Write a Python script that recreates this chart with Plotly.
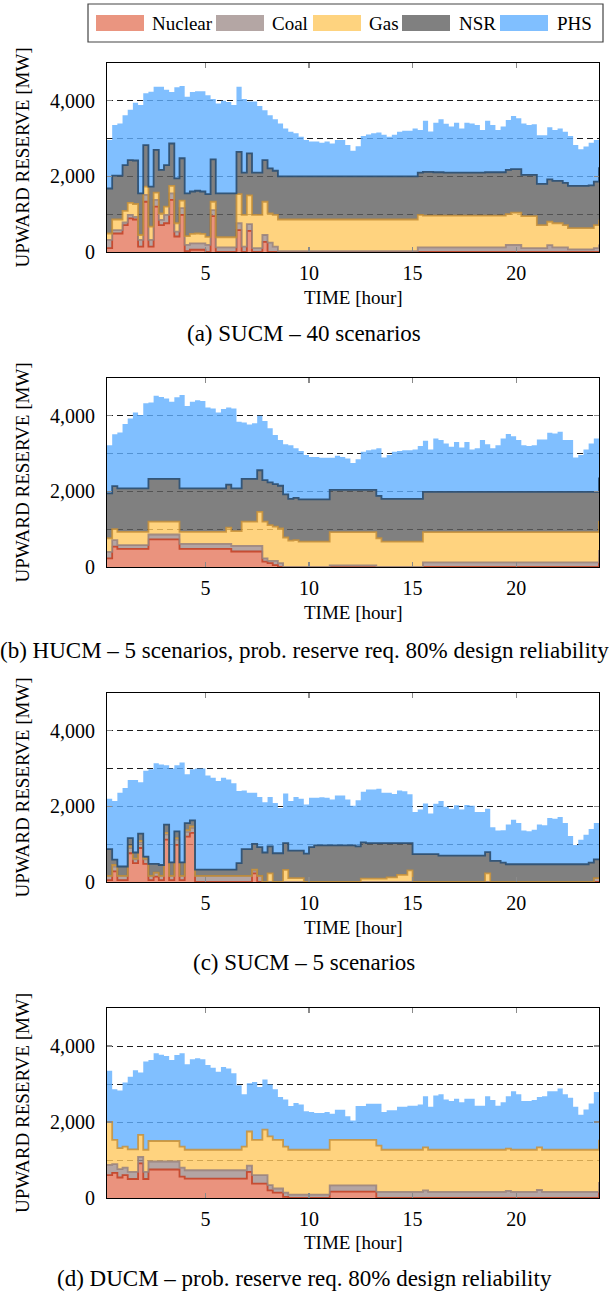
import plotly.graph_objects as go

# ---------------- data (MW), 15-min resolution ----------------
# Each list gives the TOP of the stacked layer (cumulative reserve up to that technology).
TIME_H = [q / 4 for q in range(1, 97)]  # 0.25 ... 24 h

SERIES = ["Nuclear", "Coal", "Gas", "NSR", "PHS"]

# (a) SUCM - 40 scenarios
A_NUCLEAR_TOP = [100, 490, 490, 710, 890, 860, 140, 1330, 140, 1200, 710, 760, 1380, 410, 980, 20,
                 60, 60, 60, 0, 950, 0, 0, 0, 0, 580, 0, 560, 0, 0, 270, 0,
                 0, 0, 0, 0, 0, 0, 0, 0, 0, 0, 0, 0, 0, 0, 0, 0,
                 0, 0, 0, 0, 0, 0, 0, 0, 0, 0, 0, 0, 0, 0, 0, 0,
                 0, 0, 0, 0, 0, 0, 0, 0, 0, 0, 0, 0, 0, 0, 0, 0,
                 0, 0, 0, 0, 0, 0, 0, 0, 0, 0, 0, 0, 0, 0, 0, 0]
A_COAL_TOP = [320, 580, 580, 780, 980, 930, 320, 1510, 320, 1380, 850, 980, 1550, 540, 1160, 190,
              230, 230, 230, 190, 1110, 120, 120, 120, 120, 760, 140, 740, 100, 100, 450, 250,
              140, 20, 20, 20, 20, 20, 20, 20, 20, 20, 20, 20, 20, 20, 20, 20,
              20, 20, 20, 20, 20, 20, 20, 20, 20, 20, 20, 20, 120, 120, 120, 120,
              120, 120, 120, 120, 120, 120, 120, 120, 120, 120, 120, 120, 120, 190, 190, 190,
              100, 100, 100, 100, 100, 180, 120, 120, 120, 70, 70, 70, 70, 70, 100, 200]
A_GAS_TOP = [490, 860, 860, 1090, 1300, 1270, 450, 1730, 670, 1570, 1020, 1200, 1750, 760, 1360, 420,
             480, 490, 480, 400, 1330, 390, 390, 390, 390, 1530, 980, 1500, 980, 980, 1330, 1020,
             980, 860, 860, 860, 860, 860, 860, 860, 860, 860, 860, 860, 860, 860, 860, 860,
             860, 860, 860, 860, 860, 860, 860, 860, 860, 860, 860, 860, 980, 960, 960, 960,
             960, 960, 960, 960, 960, 960, 960, 960, 960, 960, 960, 960, 960, 1000, 1040, 1040,
             950, 950, 950, 710, 710, 800, 760, 760, 710, 630, 630, 630, 630, 630, 710, 850]
A_NSR_TOP = [1680, 2020, 2020, 2300, 2430, 2420, 1550, 2830, 1730, 2700, 2170, 2300, 2870, 1950, 2480, 1550,
             1600, 1620, 1600, 1530, 2450, 1550, 1550, 1550, 1550, 2650, 2100, 2610, 2100, 2100, 2430, 2210,
             2150, 2000, 2000, 2000, 2000, 2000, 2000, 2000, 2000, 2000, 2000, 2000, 2000, 2000, 2000, 2000,
             2000, 2000, 2000, 2000, 2000, 2000, 2000, 2000, 2000, 2000, 2000, 2000, 2100, 2120, 2120, 2110,
             2110, 2100, 2100, 2100, 2100, 2100, 2100, 2100, 2100, 2110, 2110, 2110, 2110, 2170, 2190, 2190,
             2040, 2040, 2040, 1800, 1800, 1920, 1880, 1880, 1830, 1750, 1750, 1750, 1750, 1760, 1860, 2240]
A_PHS_TOP = [2960, 3360, 3400, 3620, 3760, 3950, 3890, 4200, 4240, 4370, 4370, 4290, 4230, 4360, 4390, 4110,
             4230, 4250, 4250, 4150, 4050, 3930, 4000, 3970, 3890, 4370, 4050, 3980, 3980, 3860, 3750, 3620,
             3510, 3400, 3270, 3180, 3140, 3050, 2960, 2920, 2920, 2890, 2920, 2870, 2960, 2960, 2830, 2680,
             2800, 3070, 3110, 3140, 3160, 3100, 3050, 3100, 3180, 3210, 3210, 3270, 3230, 3470, 3190, 3420,
             3510, 3390, 3320, 3420, 3270, 3420, 3400, 3360, 3230, 3470, 3360, 3230, 3320, 3490, 3600, 3540,
             3400, 3360, 3380, 3090, 3090, 3300, 3230, 3270, 3180, 3070, 2830, 2720, 2790, 2890, 2960, 3490]

# (b) HUCM - 5 scenarios, prob. reserve req. 80% design reliability
B_NUCLEAR_TOP = [230, 540, 480, 480, 480, 480, 480, 480, 730, 730, 730, 730, 730, 730, 480, 480,
                 480, 480, 480, 480, 480, 480, 480, 480, 410, 410, 410, 410, 410, 410, 140, 100,
                 50, 0, 0, 0, 0, 0, 0, 0, 0, 0, 0, 0, 0, 0, 0, 0,
                 0, 0, 0, 0, 0, 0, 0, 0, 0, 0, 0, 0, 0, 0, 0, 0,
                 0, 0, 0, 0, 0, 0, 0, 0, 0, 0, 0, 0, 0, 0, 0, 0,
                 0, 0, 0, 0, 0, 0, 0, 0, 0, 0, 0, 0, 0, 0, 0, 250]
B_COAL_TOP = [400, 710, 580, 580, 580, 580, 580, 580, 860, 860, 860, 860, 860, 860, 610, 610,
              610, 610, 610, 610, 610, 610, 610, 610, 560, 560, 560, 560, 560, 560, 230, 160,
              160, 100, 0, 0, 0, 0, 0, 0, 0, 0, 0, 40, 40, 40, 40, 40,
              40, 40, 40, 40, 0, 0, 0, 0, 0, 0, 0, 0, 0, 120, 120, 120,
              120, 120, 120, 120, 120, 120, 120, 120, 120, 120, 120, 120, 120, 120, 120, 120,
              120, 120, 120, 120, 120, 120, 120, 120, 120, 120, 120, 120, 120, 120, 120, 450]
B_GAS_TOP = [760, 1000, 930, 930, 930, 930, 930, 930, 1200, 1200, 1200, 1200, 1200, 1200, 930, 930,
             930, 930, 930, 930, 930, 930, 930, 1040, 950, 950, 1200, 1200, 1200, 1460, 1200, 1110,
             1070, 1020, 780, 700, 710, 670, 670, 670, 670, 670, 670, 920, 920, 920, 920, 920,
             920, 920, 920, 920, 760, 670, 670, 670, 670, 670, 670, 670, 670, 920, 920, 920,
             920, 920, 920, 920, 920, 920, 920, 920, 920, 920, 920, 920, 920, 920, 920, 920,
             920, 920, 920, 920, 920, 920, 920, 920, 920, 920, 920, 920, 920, 920, 920, 1220]
B_NSR_TOP = [1950, 2140, 2080, 2080, 2080, 2080, 2080, 2080, 2330, 2330, 2330, 2330, 2330, 2330, 2080, 2080,
             2080, 2080, 2080, 2080, 2080, 2080, 2080, 2180, 2080, 2080, 2330, 2330, 2330, 2560, 2300, 2240,
             2190, 2150, 1920, 1800, 1830, 1790, 1790, 1790, 1790, 1790, 1790, 2040, 2040, 2040, 2040, 2040,
             2040, 2040, 2040, 2040, 1880, 1800, 1800, 1800, 1800, 1800, 1800, 1800, 1800, 1990, 1990, 1990,
             1990, 1990, 1990, 1990, 1990, 1990, 1990, 1990, 1990, 1990, 1990, 1990, 1990, 1990, 1990, 1990,
             1990, 1990, 1990, 1990, 1990, 1990, 1990, 1990, 1990, 1990, 1990, 1990, 1990, 1990, 1990, 2370]
B_PHS_TOP = [3220, 3510, 3560, 3780, 3930, 4090, 4020, 4330, 4350, 4530, 4500, 4460, 4370, 4490, 4550, 4260,
             4370, 4410, 4390, 4220, 4190, 4090, 4180, 4220, 4190, 3840, 3820, 3770, 3800, 4000, 3860, 3670,
             3490, 3360, 3250, 3220, 3140, 3070, 2960, 2910, 2910, 2890, 2890, 2890, 2940, 2910, 2870, 2750,
             2850, 3050, 3090, 3110, 3140, 2900, 2960, 3050, 3070, 3090, 3090, 3110, 3200, 3340, 3110, 3400,
             3360, 3270, 3180, 3310, 3160, 3310, 3110, 3140, 3360, 3250, 3140, 3220, 3400, 3520, 3460, 3360,
             3220, 3200, 3220, 3370, 3370, 3550, 3530, 3580, 3360, 3360, 2900, 2960, 3110, 3270, 3400, 3400]

# (c) SUCM - 5 scenarios
C_NUCLEAR_TOP = [50, 280, 50, 50, 760, 500, 900, 480, 50, 140, 50, 1120, 50, 980, 50, 1200,
                 1300, 0, 0, 0, 0, 0, 0, 0, 0, 0, 0, 0, 230, 0, 0, 0,
                 0, 0, 0, 0, 0, 0, 0, 0, 0, 0, 0, 0, 0, 0, 0, 0,
                 0, 0, 0, 0, 0, 0, 0, 0, 0, 0, 0, 0, 0, 0, 0, 0,
                 0, 0, 0, 0, 0, 0, 0, 0, 0, 0, 0, 0, 0, 0, 0, 0,
                 0, 0, 0, 0, 0, 0, 0, 0, 0, 0, 0, 0, 0, 0, 0, 0]
C_COAL_TOP = [160, 410, 160, 160, 900, 600, 1050, 600, 160, 250, 160, 1260, 160, 1120, 160, 1330,
              1430, 160, 160, 160, 160, 160, 160, 160, 160, 160, 160, 160, 300, 160, 0, 0,
              0, 0, 0, 0, 0, 0, 0, 0, 0, 0, 0, 0, 0, 0, 0, 0,
              0, 0, 0, 0, 0, 0, 0, 0, 0, 0, 0, 0, 0, 0, 0, 0,
              0, 0, 0, 0, 0, 0, 0, 0, 0, 0, 0, 0, 0, 0, 0, 0,
              0, 0, 0, 0, 0, 0, 0, 0, 0, 0, 0, 0, 0, 0, 100, 100]
C_GAS_TOP = [160, 450, 160, 160, 940, 620, 1090, 620, 160, 250, 160, 1300, 160, 1160, 160, 1370,
             1470, 160, 160, 160, 160, 160, 160, 160, 160, 160, 160, 160, 330, 160, 0, 230,
             0, 0, 320, 100, 100, 100, 0, 0, 0, 0, 0, 0, 0, 0, 0, 0,
             0, 90, 90, 90, 90, 90, 120, 120, 190, 190, 310, 0, 0, 0, 0, 0,
             0, 0, 0, 0, 0, 0, 0, 0, 0, 230, 0, 0, 0, 0, 0, 0,
             0, 0, 0, 0, 0, 0, 0, 0, 0, 0, 0, 0, 0, 0, 100, 100]
C_NSR_TOP = [870, 590, 410, 410, 1160, 780, 1280, 670, 480, 480, 450, 1520, 520, 1340, 520, 1560,
             1630, 330, 330, 330, 330, 330, 330, 330, 330, 500, 870, 870, 1010, 920, 780, 940,
             760, 760, 1030, 830, 830, 830, 750, 920, 970, 970, 970, 970, 970, 970, 970, 970,
             940, 1050, 1030, 1030, 1030, 1030, 1030, 1030, 1030, 1030, 1030, 740, 740, 740, 740, 740,
             700, 700, 700, 700, 700, 700, 700, 700, 700, 790, 560, 560, 510, 470, 470, 470,
             470, 470, 470, 470, 470, 470, 470, 470, 470, 470, 470, 470, 470, 510, 600, 600]
C_PHS_TOP = [2200, 2140, 2360, 2490, 2700, 2700, 2640, 2940, 2980, 3140, 3110, 3090, 3000, 3090, 3160, 2850,
             2980, 3000, 3000, 2820, 2760, 2670, 2760, 2710, 2610, 2410, 2420, 2360, 2360, 2250, 2110, 2250,
             2090, 1960, 2340, 2140, 2250, 2200, 2050, 2230, 2230, 2240, 2230, 2180, 2290, 2290, 2180, 2020,
             2160, 2390, 2450, 2450, 2470, 2360, 2360, 2330, 2420, 2400, 2320, 1850, 1920, 2080, 1810, 2070,
             2140, 1990, 1940, 2030, 1920, 2040, 2020, 1850, 1850, 1940, 1450, 1360, 1370, 1520, 1650, 1560,
             1360, 1340, 1380, 1520, 1500, 1690, 1670, 1720, 1560, 1220, 980, 1120, 1250, 1400, 1560, 1690]

# (d) DUCM - prob. reserve req. 80% design reliability  (no NSR in this case)
D_NUCLEAR_TOP = [600, 660, 540, 600, 500, 500, 910, 500, 750, 750, 750, 750, 750, 750, 560, 510,
                 510, 510, 510, 510, 510, 510, 510, 510, 510, 510, 510, 690, 380, 380, 380, 200,
                 140, 140, 30, 0, 0, 0, 0, 0, 0, 0, 0, 170, 170, 170, 170, 170,
                 170, 170, 170, 170, 0, 0, 0, 0, 0, 0, 0, 0, 0, 0, 0, 0,
                 0, 0, 0, 0, 0, 0, 0, 0, 0, 0, 0, 0, 0, 0, 0, 0,
                 0, 0, 0, 0, 0, 0, 0, 0, 0, 0, 0, 0, 0, 0, 0, 230]
D_COAL_TOP = [870, 890, 760, 800, 690, 690, 1080, 690, 960, 960, 960, 960, 960, 960, 800, 730,
              730, 730, 730, 730, 730, 730, 730, 730, 730, 730, 730, 850, 600, 600, 600, 340,
              250, 250, 140, 90, 90, 90, 90, 90, 90, 90, 90, 330, 330, 330, 330, 330,
              330, 330, 330, 330, 160, 160, 160, 160, 160, 160, 160, 160, 160, 200, 160, 160,
              160, 160, 160, 160, 160, 160, 160, 160, 160, 160, 160, 160, 160, 190, 160, 160,
              160, 160, 160, 210, 160, 160, 160, 160, 160, 160, 160, 160, 160, 160, 160, 420]
D_GAS_TOP = [2000, 1530, 1310, 1350, 1280, 1280, 1660, 1270, 1500, 1500, 1500, 1500, 1500, 1500, 1350, 1270,
             1270, 1270, 1270, 1270, 1270, 1270, 1270, 1270, 1270, 1270, 1350, 1750, 1530, 1530, 1800, 1620,
             1530, 1530, 1350, 1270, 1270, 1270, 1270, 1270, 1270, 1270, 1270, 1530, 1530, 1530, 1530, 1530,
             1530, 1530, 1530, 1530, 1380, 1270, 1270, 1270, 1270, 1270, 1270, 1270, 1270, 1330, 1270, 1270,
             1270, 1270, 1270, 1270, 1270, 1270, 1270, 1270, 1270, 1270, 1270, 1270, 1270, 1300, 1270, 1270,
             1270, 1270, 1270, 1330, 1270, 1270, 1270, 1270, 1270, 1270, 1270, 1270, 1270, 1270, 1270, 1530]
D_NSR_TOP = None
D_PHS_TOP = [3350, 2860, 2830, 3040, 3190, 3360, 3300, 3590, 3630, 3810, 3770, 3740, 3630, 3760, 3810, 3520,
             3650, 3680, 3650, 3500, 3430, 3320, 3450, 3410, 3280, 2970, 2730, 3020, 3050, 2920, 3120, 2990,
             2860, 2660, 2590, 2420, 2500, 2460, 2280, 2260, 2240, 2240, 2260, 2220, 2320, 2320, 2150, 2040,
             2420, 2420, 2480, 2480, 2480, 2260, 2310, 2310, 2400, 2400, 2430, 2430, 2460, 2680, 2400, 2700,
             2730, 2590, 2550, 2610, 2520, 2610, 2610, 2430, 2430, 2680, 2580, 2430, 2520, 2680, 2810, 2730,
             2550, 2550, 2580, 2660, 2680, 2810, 2810, 2880, 2730, 2640, 2400, 2190, 2330, 2490, 2790, 2790]

PANELS = [
    ("(a) SUCM – 40 scenarios",
     [A_NUCLEAR_TOP, A_COAL_TOP, A_GAS_TOP, A_NSR_TOP, A_PHS_TOP]),
    ("(b) HUCM – 5 scenarios, prob. reserve req. 80% design reliability",
     [B_NUCLEAR_TOP, B_COAL_TOP, B_GAS_TOP, B_NSR_TOP, B_PHS_TOP]),
    ("(c) SUCM – 5 scenarios",
     [C_NUCLEAR_TOP, C_COAL_TOP, C_GAS_TOP, C_NSR_TOP, C_PHS_TOP]),
    ("(d) DUCM – prob. reserve req. 80% design reliability",
     [D_NUCLEAR_TOP, D_COAL_TOP, D_GAS_TOP, D_NSR_TOP, D_PHS_TOP]),
]

X_TICKS = [5, 10, 15, 20]
Y_TICKS = [0, 2000, 4000]
Y_GRID_MINOR = [1000, 3000]

# ---------------- styling ----------------
W, H = 609, 1292
V_SPAN = 1281  # vertical pixel span used for placement (matches the observed page capture)
FONT = "Liberation Serif"
# fills slightly transparent so the dashed grid shows through (as in the original)
FILL = {
    "Nuclear": "rgba(229,120,94,0.8)",
    "Coal": "rgba(161,143,140,0.8)",
    "Gas": "rgba(255,200,95,0.8)",
    "NSR": "rgba(96,96,96,0.8)",
    "PHS": "rgba(96,175,255,0.8)",
}
SWATCH = {"Nuclear": "#EA9580", "Coal": "#B4A6A4", "Gas": "#FED37F", "NSR": "#808080", "PHS": "#80BFFF"}
EDGE = {
    "Nuclear": "rgba(195,60,30,0.85)",
    "Coal": "rgba(150,128,124,0.85)",
    "Gas": "rgba(200,145,55,0.85)",
    "NSR": "rgba(45,80,115,0.95)",
    "PHS": "rgba(0,0,0,0)",
}
PLOT_L, PLOT_R = 107, 599
PANEL_PX = [(63, 252), (378, 567), (693, 882), (1008, 1198)]
XTITLE_Y = [297, 612, 927, 1242]
CAPTION_Y = [333, 650, 963, 1278]


def px_x(p):
    return p / W


def px_y(p):
    return 1 - p / V_SPAN


fig = go.Figure()
annotations = []
shapes = []

for i, (caption, tops) in enumerate(PANELS):
    n = "" if i == 0 else str(i + 1)
    xa, ya = "x" + n, "y" + n
    first = True
    for name, top in zip(SERIES, tops):
        if top is None:
            continue
        fig.add_trace(go.Scatter(
            x=TIME_H, y=top, mode="lines", name=name, showlegend=False,
            line=dict(shape="hv", color=EDGE[name], width=0 if name == "PHS" else 1.8),
            fill="tozeroy" if first else "tonexty", fillcolor=FILL[name],
            xaxis=xa, yaxis=ya, hoverinfo="skip",
        ))
        first = False
    top_px, bot_px = PANEL_PX[i]
    fig.update_layout(**{
        "xaxis" + n: dict(
            domain=[px_x(PLOT_L), px_x(PLOT_R)], anchor=ya, range=[0.25, 24],
            tickvals=X_TICKS, ticks="inside", ticklen=5, tickwidth=1.2, tickcolor="#8a8a8a",
            showline=True, linecolor="black", linewidth=1, mirror="ticks",
            showgrid=False, zeroline=False,
            tickfont=dict(family=FONT, size=20, color="black"), ticklabelstandoff=3,
        ),
        "yaxis" + n: dict(
            domain=[px_y(bot_px), px_y(top_px)], anchor=xa, range=[0, 5000],
            tickvals=Y_TICKS, tickformat=",", ticks="inside", ticklen=5, tickwidth=1.2,
            tickcolor="#8a8a8a", showline=True, linecolor="black", linewidth=1, mirror="ticks",
            showgrid=True, gridcolor="rgb(30,30,30)", gridwidth=1, griddash="6px,4px",
            zeroline=False,
            minor=dict(tickvals=Y_GRID_MINOR, showgrid=True, gridcolor="rgb(30,30,30)",
                       gridwidth=1, griddash="6px,4px", ticks=""),
            tickfont=dict(family=FONT, size=20, color="black"), ticklabelstandoff=7,
        ),
    })
    # axis titles and caption
    annotations.append(dict(text="TIME [hour]", x=px_x((PLOT_L + PLOT_R) / 2), y=px_y(XTITLE_Y[i]),
                            xref="paper", yref="paper", xanchor="center", yanchor="middle",
                            showarrow=False, font=dict(family=FONT, size=19, color="black")))
    annotations.append(dict(text="UPWARD RESERVE [MW]", x=px_x(22), y=px_y((top_px + bot_px) / 2),
                            xref="paper", yref="paper", xanchor="center", yanchor="middle",
                            textangle=-90, showarrow=False,
                            font=dict(family=FONT, size=19, color="black")))
    annotations.append(dict(text=caption, x=px_x(304), y=px_y(CAPTION_Y[i]),
                            xref="paper", yref="paper", xanchor="center", yanchor="middle",
                            showarrow=False, font=dict(family=FONT, size=23, color="black")))

# legend (drawn as a framed row of swatches + labels, as in the original)
LEG_BOX = (88, 4, 603, 42)
LEG_ITEMS = [(96, 150), (216, 270), (313, 367), (402, 457), (500, 555)]  # swatch left, text left
shapes.append(dict(type="rect", xref="paper", yref="paper",
                   x0=px_x(LEG_BOX[0]), x1=px_x(LEG_BOX[2]), y0=px_y(LEG_BOX[3]), y1=px_y(LEG_BOX[1]),
                   line=dict(color="#444", width=1.2), fillcolor="white"))
for name, (sx, tx) in zip(SERIES, LEG_ITEMS):
    shapes.append(dict(type="rect", xref="paper", yref="paper",
                       x0=px_x(sx), x1=px_x(sx + 48), y0=px_y(31), y1=px_y(15),
                       line=dict(width=0), fillcolor=SWATCH[name]))
    annotations.append(dict(text=name, x=px_x(tx), y=px_y(23), xref="paper", yref="paper",
                            xanchor="left", yanchor="middle", showarrow=False,
                            font=dict(family=FONT, size=19, color="black")))

fig.update_layout(
    width=W, height=H, autosize=False, margin=dict(l=0, r=0, t=0, b=0),
    paper_bgcolor="white", plot_bgcolor="white", showlegend=False,
    annotations=annotations, shapes=shapes,
)

PAGE_CSS_JS = (
    "var h=document.documentElement.style;h.margin='0';h.padding='0';"
    "h.height='1292px';h.overflow='hidden';"
    "var b=document.body.style;b.margin='0';b.padding='0';b.height='1292px';b.overflow='hidden';"
)
fig.write_html(
    "out.html",
    config={"displayModeBar": False, "staticPlot": True, "responsive": False},
    post_script=PAGE_CSS_JS,
)
